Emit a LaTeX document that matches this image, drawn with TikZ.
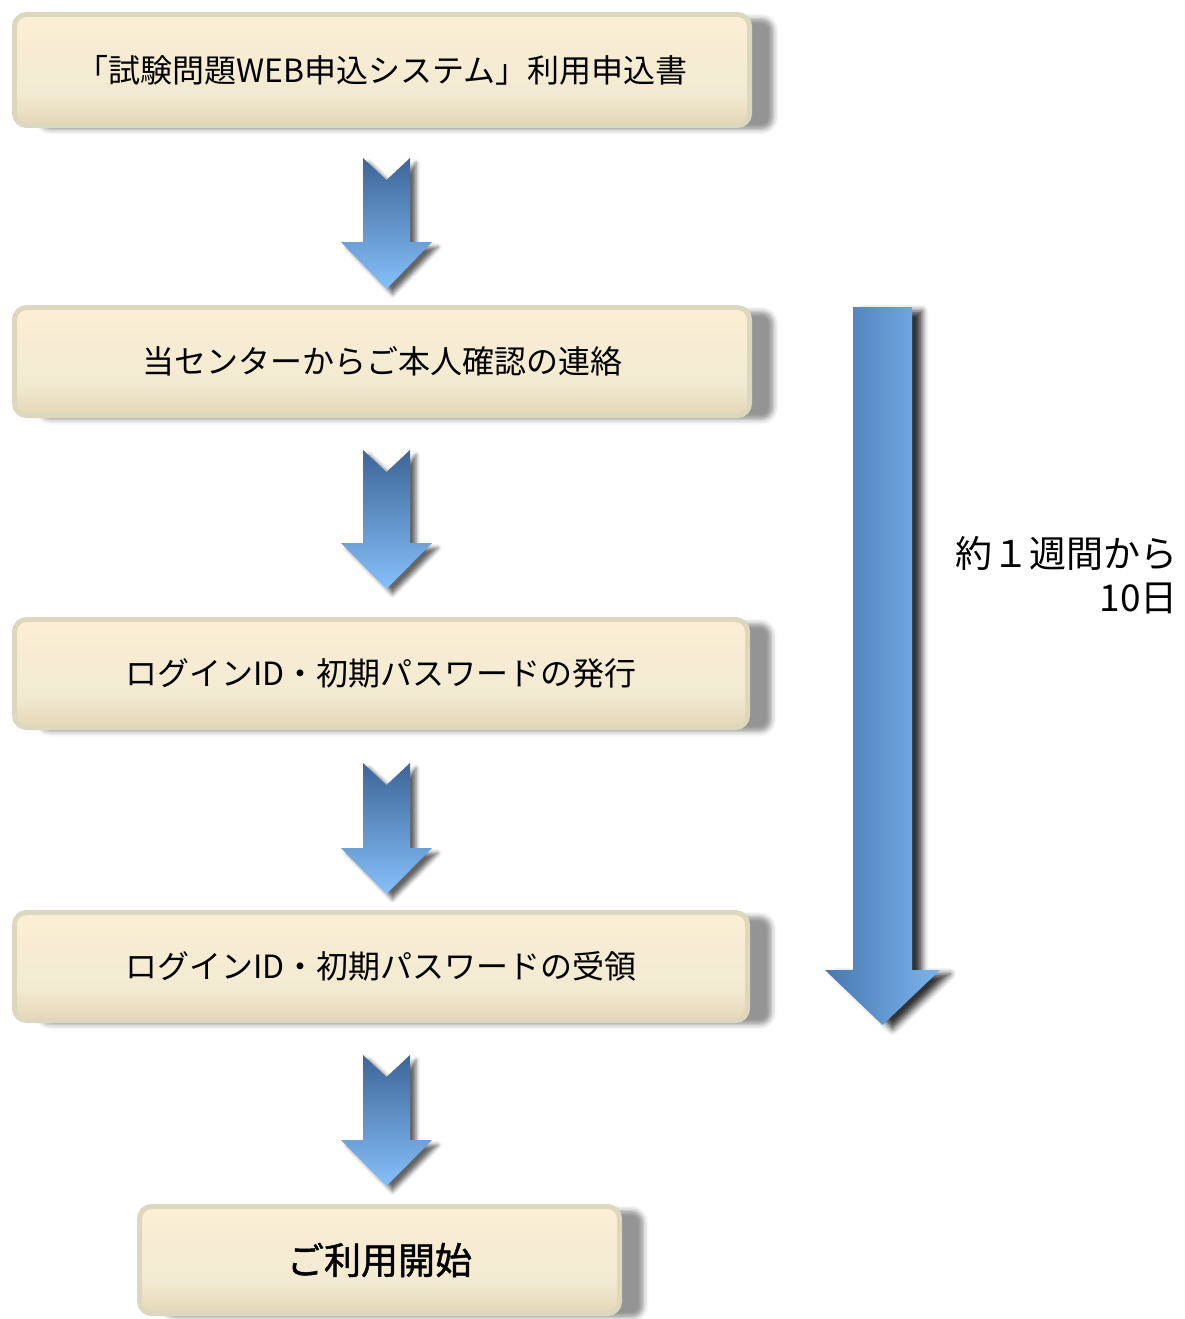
\documentclass[tikz,border=0pt]{standalone}
\usepackage{fontspec}
\setmainfont{Noto Sans CJK JP}
\newfontfamily\cjkheavy[FakeBold=1.2]{Noto Sans CJK JP}
\usetikzlibrary{shadows.blur}
\definecolor{bT}{HTML}{FDEFD5}
\definecolor{bM}{HTML}{F2EAD2}
\definecolor{bB}{HTML}{D9C7A1}
\definecolor{bBorder}{HTML}{DCD7BF}
\definecolor{aTop}{HTML}{3D6598}
\definecolor{aBot}{HTML}{86C0FA}
\definecolor{gL}{HTML}{4877B1}
\definecolor{gR}{HTML}{7BB5EE}
\pgfdeclareverticalshading{boxshade}{100bp}{color(0bp)=(bB); color(12bp)=(bB); color(40bp)=(bM); color(80bp)=(bT); color(100bp)=(bT)}
\begin{document}
\begin{tikzpicture}[x=1pt,y=-1pt]
\tikzset{
  stepbox/.style={rectangle, rounded corners=12pt, draw=bBorder, line width=5pt,
    shading=boxshade, inner sep=0pt,
    blur shadow={shadow xshift=24pt, shadow yshift=-4pt, shadow blur radius=5pt, shadow opacity=42},
    font=\fontsize{32}{38}\selectfont, text=black},
  smallarrow/.style={top color=aTop, bottom color=aBot, draw=none,
    blur shadow={shadow xshift=6pt, shadow yshift=-5pt, shadow blur radius=4pt, shadow opacity=60}},
  bigarrow/.style={left color=gL, right color=gR, draw=none,
    blur shadow={shadow xshift=10pt, shadow yshift=-4pt, shadow blur radius=6pt, shadow opacity=80}},
  notelabel/.style={font=\fontsize{37}{44}\selectfont, align=right, anchor=east, inner sep=0pt, text=black}
}
\useasboundingbox (0,0) rectangle (1184,1319);

% boxes
\node[stepbox, minimum width=735pt, minimum height=111pt] (b1) at (382,70) {「試験問題WEB申込システム」利用申込書};
\node[stepbox, minimum width=735pt, minimum height=108pt] (b2) at (382,361.5) {当センターからご本人確認の連絡};
\node[stepbox, minimum width=733pt, minimum height=108pt] (b3) at (381,673.5) {ログインID・初期パスワードの発行};
\node[stepbox, minimum width=733pt, minimum height=108pt] (b4) at (381,966.5) {ログインID・初期パスワードの受領};
\node[stepbox, minimum width=480pt, minimum height=107pt, font=\cjkheavy\fontsize{37}{44}\selectfont] (b5) at (379.5,1260) {ご利用開始};

% small notched arrows
\foreach \t/\h/\p in {158/242/289, 450/543/589, 763/848/894, 1055/1140/1186}{
  \shade[smallarrow] (363,\t) -- (386.5,\t+22) -- (410,\t) -- (410,\h) -- (432,\h)
     -- (386.5,\p) -- (341,\h) -- (363,\h) -- cycle;
}

% big arrow
\coordinate (bigtop) at (882.5,307);
\coordinate (bigtip) at (882.5,1025);
\shade[bigarrow] (853,307) -- (912,307) -- (912,970) -- (940,970) -- (bigtip)
   -- (825,970) -- (853,970) -- cycle;

\node[notelabel] (note) at (1178,575) {約１週間から\\10日};
\end{tikzpicture}
\end{document}
